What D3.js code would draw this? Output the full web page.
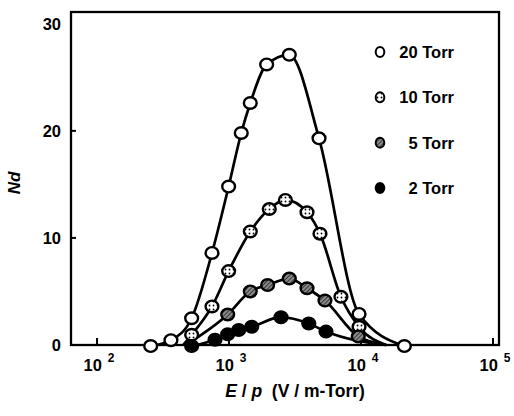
<!DOCTYPE html>
<html>
<head>
<meta charset="utf-8">
<script src="https://cdn.jsdelivr.net/npm/d3@7"></script>
<style>
  body { margin: 0; background: #fff; }
  text { font-family: "Liberation Sans", Arial, sans-serif; font-weight: bold; fill: #000; }
</style>
</head>
<body>
<div id="chart"></div>
<script>
const width = 514, height = 416;

// E/p (V/m-Torr) and Nd
const ep20 = [255, 363, 521, 743, 993, 1238, 1449, 1928, 2862, 4806, 9661, 21300];
const nd20 = [-0.1, 0.45, 2.5, 8.6, 14.8, 19.8, 22.6, 26.2, 27.1, 19.3, 2.9, -0.1];

const ep10 = [521, 743, 993, 1449, 2018, 2673, 3898, 4887, 7043, 9661];
const nd10 = [0.95, 3.6, 6.9, 10.6, 12.7, 13.55, 12.4, 10.4, 4.5, 1.7];

const ep5 = [977, 1449, 1960, 2862, 3898, 5330, 9530];
const nd5 = [2.85, 5.0, 5.6, 6.2, 5.3, 4.15, 0.8];

const ep2 = [521, 783, 977, 1183, 1486, 2476, 4018, 5430];
const nd2 = [-0.1, 0.5, 1.0, 1.4, 1.7, 2.6, 2.0, 1.25];

// where the drawn curves start/end without a marker
const lineStart = { "10": [450, 0], "5": [470, 0], "2": null, "20": null };
const lineEnd = { "10": [15500, 0], "5": [15500, 0], "2": [15500, 0], "20": null };

const yTicks = [0, 10, 20, 30];
const xTicks = [1e2, 1e3, 1e4, 1e5];
const legendLabels = ["20 Torr", "10 Torr", "5 Torr", "2 Torr"];

const series = [
  { key: "20", x: ep20, y: nd20, fill: "#fff" },
  { key: "10", x: ep10, y: nd10, fill: "url(#dots)" },
  { key: "5", x: ep5, y: nd5, fill: "url(#hatch)" },
  { key: "2", x: ep2, y: nd2, fill: "#000" }
];

const x = d3.scaleLog().domain([63.5, 1.11e5]).range([71, 499]);
const y = d3.scaleLinear().domain([0, 31.1]).range([345, 12]);

const svg = d3.select("#chart").append("svg")
  .attr("width", width)
  .attr("height", height);

const defs = svg.append("defs");
const dots = defs.append("pattern")
  .attr("id", "dots").attr("patternUnits", "userSpaceOnUse")
  .attr("width", 4).attr("height", 4);
dots.append("rect").attr("width", 4).attr("height", 4).attr("fill", "#fff");
dots.append("circle").attr("cx", 1.5).attr("cy", 1.5).attr("r", 0.9).attr("fill", "#000");

const hatch = defs.append("pattern")
  .attr("id", "hatch").attr("patternUnits", "userSpaceOnUse")
  .attr("width", 3).attr("height", 3)
  .attr("patternTransform", "rotate(45)");
hatch.append("rect").attr("width", 3).attr("height", 3).attr("fill", "#8a8a8a");
hatch.append("line").attr("x1", 0).attr("y1", 0).attr("x2", 0).attr("y2", 3)
  .attr("stroke", "#111").attr("stroke-width", 1.4);

// frame
svg.append("rect")
  .attr("x", x.range()[0]).attr("y", y.range()[1])
  .attr("width", x.range()[1] - x.range()[0])
  .attr("height", y.range()[0] - y.range()[1])
  .attr("fill", "none").attr("stroke", "#000").attr("stroke-width", 2.3);

// ticks (inward)
svg.append("g").selectAll("line").data(xTicks).enter().append("line")
  .attr("x1", d => x(d)).attr("x2", d => x(d))
  .attr("y1", y(0)).attr("y2", y(0) - 7)
  .attr("stroke", "#000").attr("stroke-width", 2);
svg.append("g").selectAll("line").data(yTicks.slice(1, 3)).enter().append("line")
  .attr("x1", x.range()[0]).attr("x2", x.range()[0] + 5)
  .attr("y1", d => y(d)).attr("y2", d => y(d))
  .attr("stroke", "#000").attr("stroke-width", 2);

// tick labels
svg.append("g").selectAll("text").data(yTicks).enter().append("text")
  .attr("x", 61).attr("y", d => y(d))
  .attr("dy", "0.36em")
  .attr("text-anchor", "end")
  .style("font-size", "16.5px")
  .text(d => d);

const xl = svg.append("g").selectAll("text").data(xTicks).enter().append("text")
  .attr("x", d => x(d) + 2).attr("y", 371)
  .attr("text-anchor", "middle")
  .style("font-size", "16.5px");
xl.append("tspan").text("10");
xl.append("tspan").attr("dx", 6).attr("dy", -9).style("font-size", "12px")
  .text(d => Math.round(Math.log10(d)));

// axis titles
const xt = svg.append("text")
  .attr("x", 295).attr("y", 397)
  .attr("text-anchor", "middle")
  .style("font-size", "17.5px")
  .style("white-space", "pre");
xt.append("tspan").style("font-style", "italic").text("E");
xt.append("tspan").text(" / ");
xt.append("tspan").style("font-style", "italic").text("p");
xt.append("tspan").text("  (V / m-Torr)");

svg.append("text")
  .attr("transform", "translate(20,183) rotate(-90)")
  .attr("text-anchor", "middle")
  .style("font-size", "17px")
  .style("font-style", "italic")
  .text("Nd");

// curves
const line = d3.line()
  .x(d => x(d[0])).y(d => y(d[1]))
  .curve(d3.curveMonotoneX);

series.forEach(s => {
  let pts = s.x.map((v, i) => [v, s.y[i]]);
  if (lineStart[s.key]) pts.unshift(lineStart[s.key]);
  if (lineEnd[s.key]) pts.push(lineEnd[s.key]);
  svg.append("path")
    .attr("d", line(pts))
    .attr("fill", "none")
    .attr("stroke", "#000")
    .attr("stroke-width", 2.7)
    .attr("stroke-linejoin", "round");
});

// markers (drawn after all curves)
series.forEach(s => {
  svg.append("g").selectAll("ellipse")
    .data(s.x.map((v, i) => [v, s.y[i]]))
    .enter().append("ellipse")
    .attr("cx", d => x(d[0])).attr("cy", d => y(d[1]))
    .attr("rx", 6.4).attr("ry", 5.8)
    .attr("fill", s.fill)
    .attr("stroke", "#000").attr("stroke-width", 2.4);
});

// legend
const legend = svg.append("g").attr("id", "legend");
const legY = d3.scalePoint().domain(legendLabels).range([52, 188]);
legend.selectAll("ellipse").data(series).enter().append("ellipse")
  .attr("cx", 380).attr("cy", (d, i) => legY(legendLabels[i]))
  .attr("rx", 4.3).attr("ry", 5)
  .attr("fill", d => d.fill)
  .attr("stroke", "#000").attr("stroke-width", 2);
legend.selectAll("text").data(legendLabels).enter().append("text")
  .attr("x", 454).attr("y", d => legY(d) + 6)
  .attr("text-anchor", "end")
  .style("font-size", "16.5px")
  .text(d => d);
</script>
</body>
</html>
